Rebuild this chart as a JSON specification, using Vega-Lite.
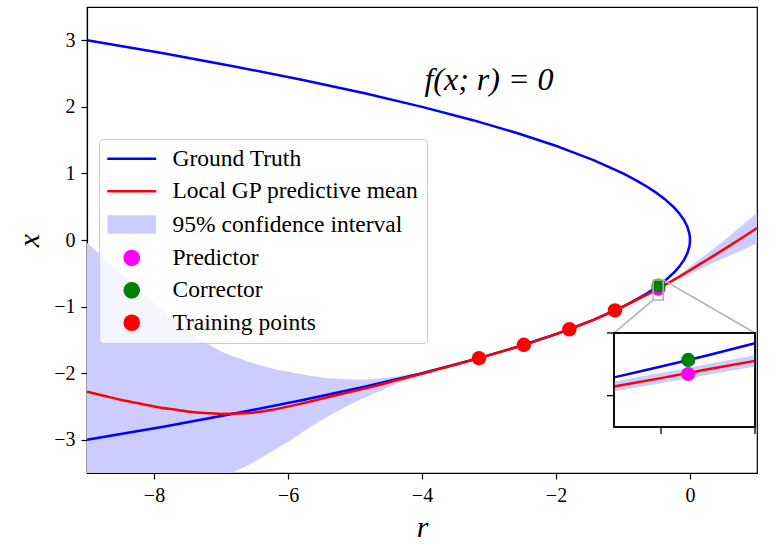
{
  "$schema": "https://vega.github.io/schema/vega-lite/v6.json",
  "width": 670,
  "height": 466,
  "autosize": {"type": "none"},
  "padding": {"left": 87, "top": 7, "right": 21, "bottom": 71},
  "background": "white",
  "datasets": {
    "truth": [
      {"r": -9, "x": 3}, {"r": -7.84, "x": 2.8}, {"r": -6.76, "x": 2.6}, {"r": -5.76, "x": 2.4}, {"r": -4.84, "x": 2.2},
      {"r": -4, "x": 2.0}, {"r": -3.24, "x": 1.8}, {"r": -2.56, "x": 1.6}, {"r": -1.96, "x": 1.4}, {"r": -1.44, "x": 1.2},
      {"r": -1, "x": 1.0}, {"r": -0.81, "x": 0.9}, {"r": -0.64, "x": 0.8}, {"r": -0.49, "x": 0.7}, {"r": -0.36, "x": 0.6},
      {"r": -0.25, "x": 0.5}, {"r": -0.16, "x": 0.4}, {"r": -0.09, "x": 0.3}, {"r": -0.04, "x": 0.2}, {"r": -0.01, "x": 0.1},
      {"r": -0.0025, "x": 0.05}, {"r": 0, "x": 0}, {"r": -0.0025, "x": -0.05},
      {"r": -0.01, "x": -0.1}, {"r": -0.04, "x": -0.2}, {"r": -0.09, "x": -0.3}, {"r": -0.16, "x": -0.4}, {"r": -0.25, "x": -0.5},
      {"r": -0.36, "x": -0.6}, {"r": -0.49, "x": -0.7}, {"r": -0.64, "x": -0.8}, {"r": -0.81, "x": -0.9}, {"r": -1, "x": -1.0},
      {"r": -1.44, "x": -1.2}, {"r": -1.96, "x": -1.4}, {"r": -2.56, "x": -1.6}, {"r": -3.24, "x": -1.8}, {"r": -4, "x": -2.0},
      {"r": -4.84, "x": -2.2}, {"r": -5.76, "x": -2.4}, {"r": -6.76, "x": -2.6}, {"r": -7.84, "x": -2.8}, {"r": -9, "x": -3}
    ],
    "gp": [
      {"r": -9, "m": -2.28, "lo": -4.52, "hi": -0.04},
      {"r": -8.75, "m": -2.34, "lo": -4.41, "hi": -0.27},
      {"r": -8.5, "m": -2.4, "lo": -4.3, "hi": -0.5},
      {"r": -8.25, "m": -2.45, "lo": -4.17, "hi": -0.73},
      {"r": -8, "m": -2.5, "lo": -4.05, "hi": -0.95},
      {"r": -7.75, "m": -2.54, "lo": -3.92, "hi": -1.16},
      {"r": -7.5, "m": -2.575, "lo": -3.8, "hi": -1.36},
      {"r": -7.25, "m": -2.6, "lo": -3.69, "hi": -1.53},
      {"r": -7, "m": -2.612, "lo": -3.57, "hi": -1.67},
      {"r": -6.75, "m": -2.607, "lo": -3.46, "hi": -1.77},
      {"r": -6.5, "m": -2.59, "lo": -3.33, "hi": -1.855},
      {"r": -6.25, "m": -2.553, "lo": -3.18, "hi": -1.925},
      {"r": -6, "m": -2.503, "lo": -3.03, "hi": -1.98},
      {"r": -5.75, "m": -2.445, "lo": -2.865, "hi": -2.025},
      {"r": -5.5, "m": -2.385, "lo": -2.705, "hi": -2.065},
      {"r": -5.25, "m": -2.325, "lo": -2.565, "hi": -2.085},
      {"r": -5, "m": -2.265, "lo": -2.435, "hi": -2.095},
      {"r": -4.75, "m": -2.205, "lo": -2.32, "hi": -2.09},
      {"r": -4.5, "m": -2.14, "lo": -2.215, "hi": -2.065},
      {"r": -4.25, "m": -2.072, "lo": -2.112, "hi": -2.032},
      {"r": -4, "m": -2.008, "lo": -2.028, "hi": -1.988},
      {"r": -3.75, "m": -1.94, "lo": -1.95, "hi": -1.93},
      {"r": -3.5, "m": -1.873, "lo": -1.879, "hi": -1.867},
      {"r": -3.15, "m": -1.775, "lo": -1.779, "hi": -1.771},
      {"r": -2.8, "m": -1.673, "lo": -1.678, "hi": -1.668},
      {"r": -2.48, "m": -1.575, "lo": -1.579, "hi": -1.571},
      {"r": -2.15, "m": -1.466, "lo": -1.471, "hi": -1.461},
      {"r": -1.8, "m": -1.342, "lo": -1.346, "hi": -1.338},
      {"r": -1.45, "m": -1.204, "lo": -1.209, "hi": -1.199},
      {"r": -1.12, "m": -1.058, "lo": -1.063, "hi": -1.053},
      {"r": -0.8, "m": -0.9, "lo": -0.912, "hi": -0.888},
      {"r": -0.55, "m": -0.771, "lo": -0.787, "hi": -0.755},
      {"r": -0.4, "m": -0.689, "lo": -0.707, "hi": -0.671},
      {"r": -0.2, "m": -0.575, "lo": -0.605, "hi": -0.545},
      {"r": 0, "m": -0.455, "lo": -0.51, "hi": -0.4},
      {"r": 0.25, "m": -0.3, "lo": -0.39, "hi": -0.21},
      {"r": 0.5, "m": -0.145, "lo": -0.275, "hi": -0.015},
      {"r": 0.75, "m": 0.015, "lo": -0.165, "hi": 0.195},
      {"r": 1, "m": 0.18, "lo": -0.05, "hi": 0.41}
    ],
    "train": [
      {"r": -3.15, "x": -1.775}, {"r": -2.48, "x": -1.575}, {"r": -1.8, "x": -1.342}, {"r": -1.12, "x": -1.058}
    ],
    "pred": [{"r": -0.471, "x": -0.731}],
    "corr": [{"r": -0.471, "x": -0.686}],
    "box": [{"r": -0.55, "r2": -0.4, "x": -0.9, "x2": -0.6}],
    "conn": [
      {"r": -0.55, "x": -0.9, "r2": -1.134, "x2": -1.397},
      {"r": -0.4, "x": -0.6, "r2": 0.97, "x2": -1.397}
    ],
    "itruth": [
      {"r": -0.55, "x": -0.7416}, {"r": -0.525, "x": -0.7246}, {"r": -0.5, "x": -0.7071}, {"r": -0.475, "x": -0.6892},
      {"r": -0.45, "x": -0.6708}, {"r": -0.425, "x": -0.6519}, {"r": -0.4, "x": -0.6325}
    ],
    "igp": [
      {"r": -0.55, "m": -0.771, "lo": -0.787, "hi": -0.755},
      {"r": -0.5, "m": -0.744, "lo": -0.76, "hi": -0.728},
      {"r": -0.45, "m": -0.716, "lo": -0.733, "hi": -0.699},
      {"r": -0.4, "m": -0.689, "lo": -0.707, "hi": -0.671}
    ],
    "ileft": [{"r": -0.55, "x": -0.8}, {"r": -0.55, "x": -0.6}],
    "ibottom": [{"r": -0.5, "x": -0.9}, {"r": -0.4, "x": -0.9}]
  },
  "layer": [
    {
      "layer": [
        {
          "data": {"name": "gp"},
          "mark": {"type": "area", "clip": true, "interpolate": "monotone"},
          "encoding": {
            "x": {"field": "r", "type": "quantitative", "scale": {"domain": [-9, 1], "nice": false, "zero": false},
              "axis": {"title": "r", "values": [-8, -6, -4, -2, 0], "titlePadding": 7, "labelPadding": 6}},
            "y": {"field": "lo", "type": "quantitative", "scale": {"domain": [-3.5, 3.5], "nice": false, "zero": false},
              "axis": {"title": "x", "values": [-3, -2, -1, 0, 1, 2, 3], "titlePadding": 9, "labelPadding": 6}},
            "y2": {"field": "hi"},
            "color": {"datum": "95% confidence interval", "type": "nominal",
              "scale": {"domain": ["Ground Truth", "Local GP predictive mean", "95% confidence interval", "Predictor", "Corrector", "Training points"],
                "range": ["#0000ff", "#ff0000", "#ccccff", "#ff00ff", "#008000", "#ff0000"]},
              "legend": {
                "orient": "none", "legendX": 12, "legendY": 132, "title": null,
                "labelFont": "Liberation Serif", "labelFontSize": 23.5, "labelColor": "black", "labelLimit": 500,
                "symbolSize": 200, "symbolOffset": 13, "labelOffset": 29, "rowPadding": 7.4, "padding": 8,
                "fillColor": "rgba(255,255,255,0.8)", "strokeColor": "#cccccc", "cornerRadius": 4,
                "encode": {"symbols": {"update": {
                  "shape": {"signal": "(datum.value === 'Ground Truth' || datum.value === 'Local GP predictive mean') ? 'M-3.46,0L3.46,0' : (datum.value === '95% confidence interval' ? 'M-3.25,-1.13L3.25,-1.13L3.25,1.13L-3.25,1.13Z' : 'circle')"},
                  "fill": {"signal": "(datum.value === 'Ground Truth' || datum.value === 'Local GP predictive mean') ? 'transparent' : scale('color', datum.value)"},
                  "stroke": {"signal": "(datum.value === 'Ground Truth' || datum.value === 'Local GP predictive mean') ? scale('color', datum.value) : 'transparent'"},
                  "strokeWidth": {"value": 2.5},
                  "opacity": {"value": 1},
                  "fillOpacity": {"value": 1},
                  "strokeOpacity": {"value": 1}
                }}}
              }}
          }
        },
        {
          "data": {"name": "truth"},
          "mark": {"type": "line", "strokeWidth": 2.5, "strokeJoin": "round"},
          "encoding": {
            "x": {"field": "r", "type": "quantitative", "scale": {"domain": [-9, 1], "nice": false, "zero": false},
              "axis": {"title": "r", "values": [-8, -6, -4, -2, 0], "titlePadding": 7, "labelPadding": 6}},
            "y": {"field": "x", "type": "quantitative", "scale": {"domain": [-3.5, 3.5], "nice": false, "zero": false},
              "axis": {"title": "x", "values": [-3, -2, -1, 0, 1, 2, 3], "titlePadding": 9, "labelPadding": 6}},
            "order": {"field": "x", "sort": "descending"},
            "color": {"datum": "Ground Truth", "type": "nominal"}
          }
        },
        {
          "data": {"name": "gp"},
          "mark": {"type": "line", "strokeWidth": 2.5, "interpolate": "monotone"},
          "encoding": {
            "x": {"field": "r", "type": "quantitative", "scale": {"domain": [-9, 1], "nice": false, "zero": false},
              "axis": {"title": "r", "values": [-8, -6, -4, -2, 0], "titlePadding": 7, "labelPadding": 6}},
            "y": {"field": "m", "type": "quantitative", "scale": {"domain": [-3.5, 3.5], "nice": false, "zero": false},
              "axis": {"title": "x", "values": [-3, -2, -1, 0, 1, 2, 3], "titlePadding": 9, "labelPadding": 6}},
            "color": {"datum": "Local GP predictive mean", "type": "nominal"}
          }
        },
        {
          "data": {"name": "train"},
          "mark": {"type": "point", "filled": true, "size": 210, "opacity": 1, "shape": "circle"},
          "encoding": {
            "x": {"field": "r", "type": "quantitative", "scale": {"domain": [-9, 1], "nice": false, "zero": false},
              "axis": {"title": "r", "values": [-8, -6, -4, -2, 0], "titlePadding": 7, "labelPadding": 6}},
            "y": {"field": "x", "type": "quantitative", "scale": {"domain": [-3.5, 3.5], "nice": false, "zero": false},
              "axis": {"title": "x", "values": [-3, -2, -1, 0, 1, 2, 3], "titlePadding": 9, "labelPadding": 6}},
            "color": {"datum": "Training points", "type": "nominal"}
          }
        },
        {
          "data": {"name": "pred"},
          "mark": {"type": "point", "filled": true, "size": 200, "opacity": 1, "shape": "circle"},
          "encoding": {
            "x": {"field": "r", "type": "quantitative", "scale": {"domain": [-9, 1], "nice": false, "zero": false},
              "axis": {"title": "r", "values": [-8, -6, -4, -2, 0], "titlePadding": 7, "labelPadding": 6}},
            "y": {"field": "x", "type": "quantitative", "scale": {"domain": [-3.5, 3.5], "nice": false, "zero": false},
              "axis": {"title": "x", "values": [-3, -2, -1, 0, 1, 2, 3], "titlePadding": 9, "labelPadding": 6}},
            "color": {"datum": "Predictor", "type": "nominal"}
          }
        },
        {
          "data": {"name": "corr"},
          "mark": {"type": "point", "filled": true, "size": 200, "opacity": 1, "shape": "circle"},
          "encoding": {
            "x": {"field": "r", "type": "quantitative", "scale": {"domain": [-9, 1], "nice": false, "zero": false},
              "axis": {"title": "r", "values": [-8, -6, -4, -2, 0], "titlePadding": 7, "labelPadding": 6}},
            "y": {"field": "x", "type": "quantitative", "scale": {"domain": [-3.5, 3.5], "nice": false, "zero": false},
              "axis": {"title": "x", "values": [-3, -2, -1, 0, 1, 2, 3], "titlePadding": 9, "labelPadding": 6}},
            "color": {"datum": "Corrector", "type": "nominal"}
          }
        },
        {
          "data": {"name": "box"},
          "mark": {"type": "rect", "fill": null, "fillOpacity": 0, "stroke": "#b0b0b0", "strokeWidth": 1.5},
          "encoding": {
            "x": {"field": "r", "type": "quantitative", "scale": {"domain": [-9, 1], "nice": false, "zero": false},
              "axis": {"title": "r", "values": [-8, -6, -4, -2, 0], "titlePadding": 7, "labelPadding": 6}},
            "x2": {"field": "r2"},
            "y": {"field": "x", "type": "quantitative", "scale": {"domain": [-3.5, 3.5], "nice": false, "zero": false},
              "axis": {"title": "x", "values": [-3, -2, -1, 0, 1, 2, 3], "titlePadding": 9, "labelPadding": 6}},
            "y2": {"field": "x2"}
          }
        },
        {
          "data": {"name": "conn"},
          "mark": {"type": "rule", "stroke": "#b0b0b0", "strokeWidth": 1.5},
          "encoding": {
            "x": {"field": "r", "type": "quantitative", "scale": {"domain": [-9, 1], "nice": false, "zero": false},
              "axis": {"title": "r", "values": [-8, -6, -4, -2, 0], "titlePadding": 7, "labelPadding": 6}},
            "x2": {"field": "r2"},
            "y": {"field": "x", "type": "quantitative", "scale": {"domain": [-3.5, 3.5], "nice": false, "zero": false},
              "axis": {"title": "x", "values": [-3, -2, -1, 0, 1, 2, 3], "titlePadding": 9, "labelPadding": 6}},
            "y2": {"field": "x2"}
          }
        },
        {
          "data": {"values": [{"label": "f(x; r) = 0"}]},
          "mark": {"type": "text", "font": "Liberation Serif", "fontStyle": "italic", "fontSize": 32, "color": "black", "align": "center", "baseline": "middle"},
          "encoding": {
            "x": {"datum": -3.0, "type": "quantitative", "scale": {"domain": [-9, 1], "nice": false, "zero": false},
              "axis": {"title": "r", "values": [-8, -6, -4, -2, 0], "titlePadding": 7, "labelPadding": 6}},
            "y": {"datum": 2.4, "type": "quantitative", "scale": {"domain": [-3.5, 3.5], "nice": false, "zero": false},
              "axis": {"title": "x", "values": [-3, -2, -1, 0, 1, 2, 3], "titlePadding": 9, "labelPadding": 6}},
            "text": {"field": "label"}
          }
        }
      ]
    },
    {
      "layer": [
        {
          "data": {"name": "box"},
          "mark": {"type": "rect", "fill": "white", "stroke": "black", "strokeWidth": 1.5},
          "encoding": {
            "x": {"field": "r", "type": "quantitative", "scale": {"domain": [-0.55, -0.4], "range": [527, 668], "nice": false, "zero": false}, "axis": null},
            "x2": {"field": "r2"},
            "y": {"field": "x", "type": "quantitative", "scale": {"domain": [-0.9, -0.6], "range": [420, 326], "nice": false, "zero": false}, "axis": null},
            "y2": {"field": "x2"}
          }
        },
        {
          "data": {"name": "igp"},
          "mark": {"type": "area", "color": "#ccccff"},
          "encoding": {
            "x": {"field": "r", "type": "quantitative", "scale": {"domain": [-0.55, -0.4], "range": [527, 668], "nice": false, "zero": false}, "axis": null},
            "y": {"field": "lo", "type": "quantitative", "scale": {"domain": [-0.9, -0.6], "range": [420, 326], "nice": false, "zero": false}, "axis": null},
            "y2": {"field": "hi"}
          }
        },
        {
          "data": {"name": "itruth"},
          "mark": {"type": "line", "color": "#0000ff", "strokeWidth": 2.5},
          "encoding": {
            "x": {"field": "r", "type": "quantitative", "scale": {"domain": [-0.55, -0.4], "range": [527, 668], "nice": false, "zero": false}, "axis": null},
            "y": {"field": "x", "type": "quantitative", "scale": {"domain": [-0.9, -0.6], "range": [420, 326], "nice": false, "zero": false}, "axis": null}
          }
        },
        {
          "data": {"name": "igp"},
          "mark": {"type": "line", "color": "#ff0000", "strokeWidth": 2.5},
          "encoding": {
            "x": {"field": "r", "type": "quantitative", "scale": {"domain": [-0.55, -0.4], "range": [527, 668], "nice": false, "zero": false}, "axis": null},
            "y": {"field": "m", "type": "quantitative", "scale": {"domain": [-0.9, -0.6], "range": [420, 326], "nice": false, "zero": false}, "axis": null}
          }
        },
        {
          "data": {"name": "pred"},
          "mark": {"type": "point", "filled": true, "size": 200, "opacity": 1, "shape": "circle", "color": "#ff00ff"},
          "encoding": {
            "x": {"field": "r", "type": "quantitative", "scale": {"domain": [-0.55, -0.4], "range": [527, 668], "nice": false, "zero": false}, "axis": null},
            "y": {"field": "x", "type": "quantitative", "scale": {"domain": [-0.9, -0.6], "range": [420, 326], "nice": false, "zero": false}, "axis": null}
          }
        },
        {
          "data": {"name": "corr"},
          "mark": {"type": "point", "filled": true, "size": 200, "opacity": 1, "shape": "circle", "color": "#008000"},
          "encoding": {
            "x": {"field": "r", "type": "quantitative", "scale": {"domain": [-0.55, -0.4], "range": [527, 668], "nice": false, "zero": false}, "axis": null},
            "y": {"field": "x", "type": "quantitative", "scale": {"domain": [-0.9, -0.6], "range": [420, 326], "nice": false, "zero": false}, "axis": null}
          }
        },
        {
          "data": {"name": "box"},
          "mark": {"type": "rect", "fill": null, "fillOpacity": 0, "stroke": "black", "strokeWidth": 1.5},
          "encoding": {
            "x": {"field": "r", "type": "quantitative", "scale": {"domain": [-0.55, -0.4], "range": [527, 668], "nice": false, "zero": false}, "axis": null},
            "x2": {"field": "r2"},
            "y": {"field": "x", "type": "quantitative", "scale": {"domain": [-0.9, -0.6], "range": [420, 326], "nice": false, "zero": false}, "axis": null},
            "y2": {"field": "x2"}
          }
        },
        {
          "data": {"name": "ileft"},
          "mark": {"type": "tick", "orient": "horizontal", "size": 7, "thickness": 1.3, "xOffset": -3.5, "color": "black", "opacity": 1},
          "encoding": {
            "x": {"field": "r", "type": "quantitative", "scale": {"domain": [-0.55, -0.4], "range": [527, 668], "nice": false, "zero": false}, "axis": null},
            "y": {"field": "x", "type": "quantitative", "scale": {"domain": [-0.9, -0.6], "range": [420, 326], "nice": false, "zero": false}, "axis": null}
          }
        },
        {
          "data": {"name": "ibottom"},
          "mark": {"type": "tick", "orient": "vertical", "size": 7, "thickness": 1.3, "yOffset": 3.5, "color": "black", "opacity": 1},
          "encoding": {
            "x": {"field": "r", "type": "quantitative", "scale": {"domain": [-0.55, -0.4], "range": [527, 668], "nice": false, "zero": false}, "axis": null},
            "y": {"field": "x", "type": "quantitative", "scale": {"domain": [-0.9, -0.6], "range": [420, 326], "nice": false, "zero": false}, "axis": null}
          }
        }
      ]
    }
  ],
  "resolve": {"scale": {"x": "independent", "y": "independent"}},
  "config": {
    "font": "Liberation Serif",
    "view": {"stroke": "black", "strokeWidth": 1.2},
    "axis": {
      "grid": false, "domainColor": "black", "domainWidth": 1.2, "tickColor": "black", "tickWidth": 1.2, "tickSize": 6,
      "labelColor": "black", "labelFont": "Liberation Serif", "labelFontSize": 20, "labelFlush": false, "labelOverlap": false,
      "titleColor": "black", "titleFont": "Liberation Serif", "titleFontStyle": "italic", "titleFontWeight": "normal", "titleFontSize": 30
    }
  }
}
